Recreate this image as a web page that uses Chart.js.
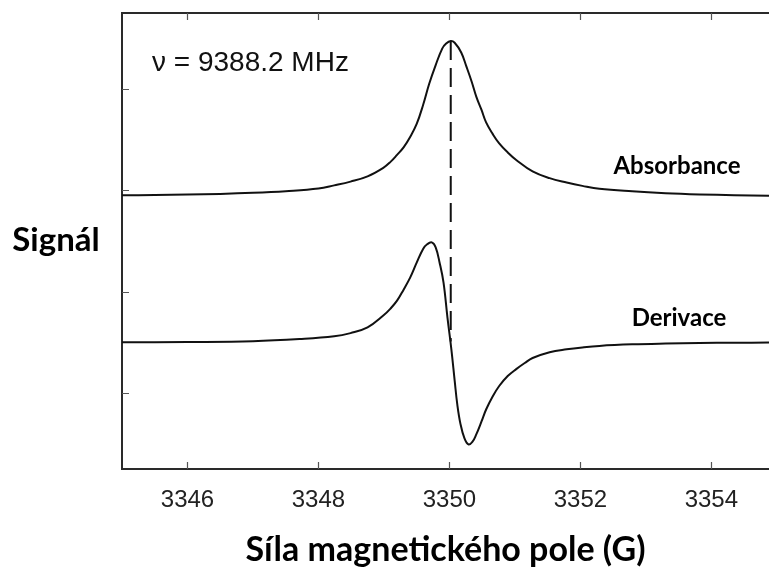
<!DOCTYPE html>
<html>
<head>
<meta charset="utf-8">
<title>EPR</title>
<script src="https://cdn.jsdelivr.net/npm/chart.js@4.4.1/dist/chart.umd.min.js"></script>
<style>
  html, body { margin: 0; padding: 0; background: #fff; }
  canvas { display: block; }
</style>
</head>
<body>
<canvas id="chart" width="769" height="568"></canvas>
<script>
// field values (G) and signal for the absorption line
let absField  = [3345.00, 3345.50, 3346.00, 3346.50, 3347.00, 3347.50, 3348.00, 3348.24, 3348.49, 3348.75,
                 3348.99, 3349.10, 3349.20, 3349.30, 3349.40, 3349.50, 3349.60, 3349.69, 3349.79, 3349.89,
                 3349.95, 3350.02, 3350.08, 3350.18, 3350.26, 3350.34, 3350.41, 3350.49, 3350.56, 3350.66,
                 3350.76, 3350.89, 3351.02, 3351.27, 3351.53, 3351.79, 3352.03, 3352.29, 3352.79, 3353.30,
                 3353.82, 3354.35, 3354.88]
let absSignal = [1.951, 1.954, 1.958, 1.964, 1.975, 1.992, 2.018, 2.049, 2.086, 2.138,
                 2.222, 2.281, 2.350, 2.424, 2.527, 2.655, 2.847, 3.049, 3.236, 3.399,
                 3.448, 3.473, 3.456, 3.360, 3.220, 3.072, 2.924, 2.793, 2.670, 2.557,
                 2.463, 2.374, 2.300, 2.187, 2.120, 2.077, 2.044, 2.015, 1.990, 1.972,
                 1.960, 1.952, 1.946]

// first derivative of the same line
let derField  = [3345.00, 3346.00, 3347.00, 3347.71, 3348.24, 3348.49, 3348.75, 3348.99, 3349.10, 3349.20,
                 3349.30, 3349.40, 3349.50, 3349.60, 3349.66, 3349.73, 3349.79, 3349.85, 3349.91, 3349.97,
                 3350.03, 3350.08, 3350.12, 3350.17, 3350.23, 3350.29, 3350.35, 3350.41, 3350.49, 3350.56,
                 3350.66, 3350.76, 3350.89, 3351.02, 3351.15, 3351.27, 3351.53, 3351.79, 3352.03, 3352.29,
                 3352.79, 3353.30, 3353.82, 3354.35, 3354.88]
let derSignal = [0.500, 0.503, 0.511, 0.532, 0.559, 0.591, 0.647, 0.764, 0.833, 0.911,
                 1.020, 1.138, 1.286, 1.424, 1.468, 1.486, 1.438, 1.286, 1.089, 0.744,
                 0.429, 0.123, -0.113, -0.310, -0.448, -0.507, -0.483, -0.409, -0.281, -0.163,
                 -0.034, 0.069, 0.167, 0.236, 0.296, 0.345, 0.402, 0.431, 0.450, 0.465,
                 0.480, 0.488, 0.493, 0.496, 0.498]

// resonance marker from the absorption maximum down to the derivative zero
let centerField  = [3350.02, 3350.02]
let centerSignal = [3.473, 0.507]

let xTicks = [3346, 3348, 3350, 3352, 3354]
let yTicks = [0, 1, 2, 3]

let freqLabel = 'ν = 9388.2 MHz'
let yLabel = 'Signál'
let xLabel = 'Síla magnetického pole (G)'
let absLabel = 'Absorbance'
let derLabel = 'Derivace'

function toPoints(xs, ys) {
    return xs.map((x, i) => ({x: x, y: ys[i]}))
}

// frame top line, inward tick marks and free text
const decorations = {
    id: 'decorations',
    afterDraw(chart) {
        const {ctx, chartArea: a, scales: {x, y}} = chart
        ctx.save()
        ctx.strokeStyle = '#2a2a2a'
        ctx.lineWidth = 2
        ctx.beginPath()
        ctx.moveTo(a.left - 1, a.top)
        ctx.lineTo(a.right, a.top)
        ctx.stroke()

        ctx.strokeStyle = '#555'
        ctx.lineWidth = 1.2
        ctx.beginPath()
        x.ticks.forEach(t => {
            let px = Math.round(x.getPixelForValue(t.value)) + 0.5
            ctx.moveTo(px, a.bottom)
            ctx.lineTo(px, a.bottom - 7)
            ctx.moveTo(px, a.top)
            ctx.lineTo(px, a.top + 7)
        })
        y.ticks.forEach(t => {
            let py = Math.round(y.getPixelForValue(t.value)) + 0.5
            ctx.moveTo(a.left, py)
            ctx.lineTo(a.left + 7, py)
        })
        ctx.stroke()

        ctx.fillStyle = '#111'
        ctx.textBaseline = 'alphabetic'
        ctx.textAlign = 'left'
        ctx.font = '28px "Liberation Sans", Arial, sans-serif'
        ctx.fillText(freqLabel, 152, 71)

        ctx.fillStyle = '#000'
        ctx.textAlign = 'center'
        ctx.font = 'bold 33px Lato, sans-serif'
        ctx.fillText(yLabel, 56, 251)
        ctx.font = 'bold 34px Lato, sans-serif'
        ctx.fillText(xLabel, (a.left + a.right) / 2, 561)
        ctx.font = 'bold 24px Lato, sans-serif'
        ctx.fillText(absLabel, 677, 174)
        ctx.fillText(derLabel, 679, 326)
        ctx.restore()
    }
}

let lineStyle = {
    borderColor: '#111',
    borderWidth: 2,
    pointRadius: 0,
    fill: false,
    tension: 0.4
}

let chart = new Chart(document.getElementById('chart').getContext('2d'), {
    type: 'line',
    data: {
        datasets: [
            Object.assign({label: absLabel, data: toPoints(absField, absSignal)}, lineStyle),
            Object.assign({label: derLabel, data: toPoints(derField, derSignal)}, lineStyle),
            {
                label: 'center',
                data: toPoints(centerField, centerSignal),
                borderColor: '#111',
                borderWidth: 2,
                borderDash: [19, 8],
                pointRadius: 0,
                fill: false
            }
        ]
    },
    options: {
        responsive: false,
        animation: false,
        layout: {padding: {top: 13, right: 0, bottom: 0, left: 0}},
        plugins: {legend: {display: false}, tooltip: {enabled: false}},
        scales: {
            x: {
                type: 'linear',
                min: 3345,
                max: 3354.88,
                grid: {display: false, drawTicks: false},
                border: {display: true, color: '#2a2a2a', width: 2},
                afterBuildTicks: scale => { scale.ticks = xTicks.map(v => ({value: v})) },
                afterFit: scale => { scale.height = 99 },
                ticks: {
                    autoSkip: false,
                    maxRotation: 0,
                    padding: 17,
                    color: '#222',
                    font: {family: '"Liberation Sans", Arial, sans-serif', size: 24},
                    callback: v => String(v)
                }
            },
            y: {
                type: 'linear',
                min: -0.75,
                max: 3.75,
                grid: {display: false, drawTicks: false},
                border: {display: true, color: '#2a2a2a', width: 2},
                afterBuildTicks: scale => { scale.ticks = yTicks.map(v => ({value: v})) },
                afterFit: scale => { scale.width = 122 },
                ticks: {display: false}
            }
        }
    },
    plugins: [decorations]
})
</script>
</body>
</html>
